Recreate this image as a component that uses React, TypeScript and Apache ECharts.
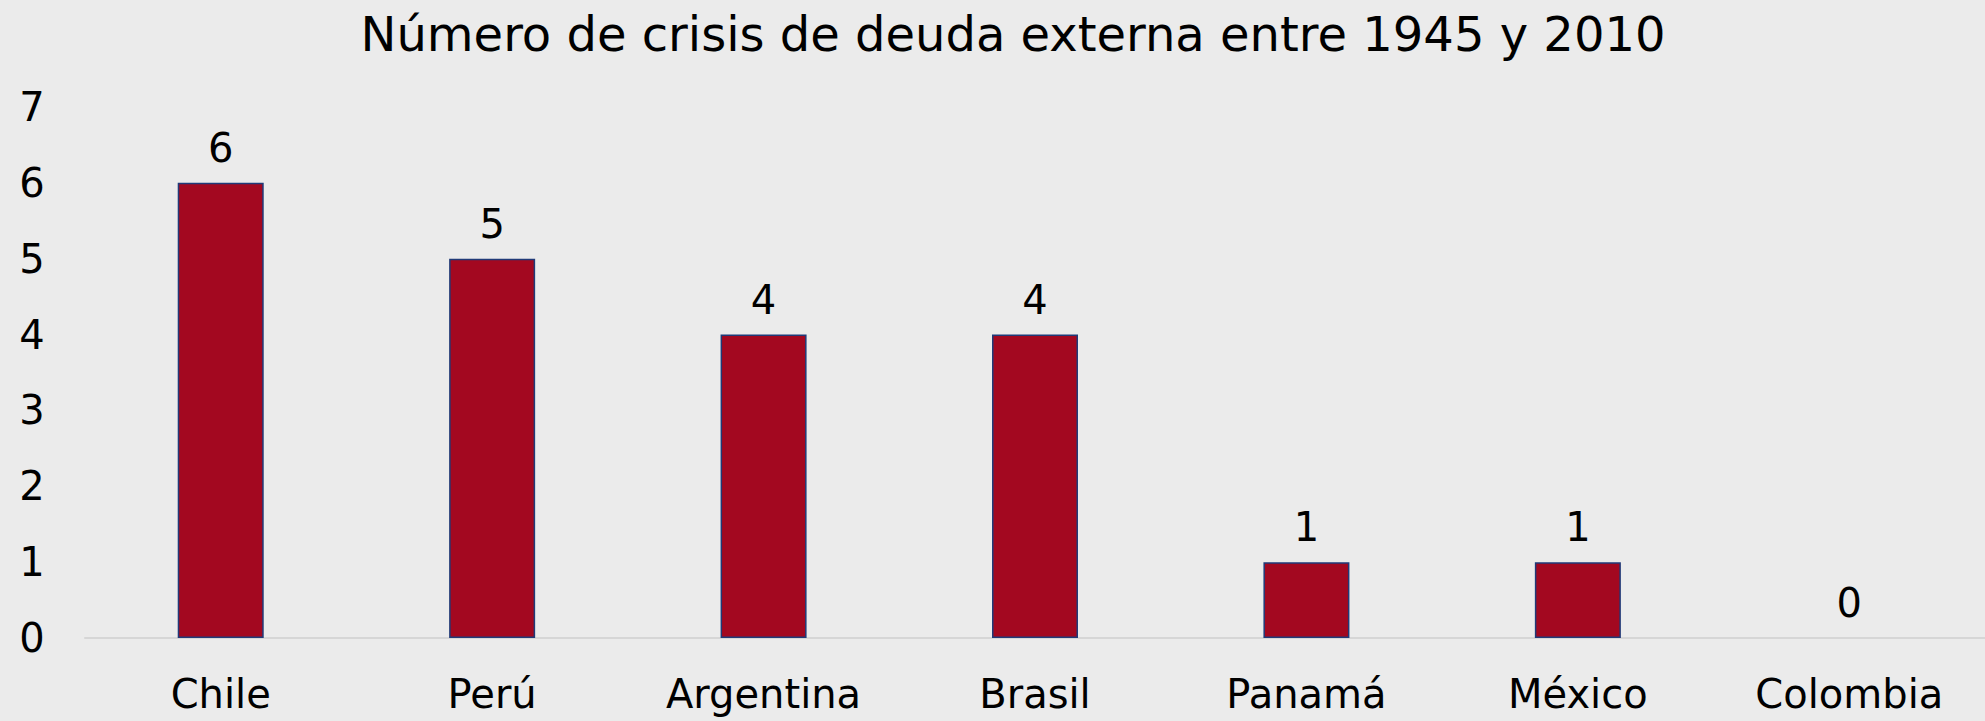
import React, { useEffect, useRef } from "react";
import * as echarts from "echarts";

const titleText = "Número de crisis de deuda externa entre 1945 y 2010";
const countries = ["Chile", "Perú", "Argentina", "Brasil", "Panamá", "México", "Colombia"];
const crisisCounts = [6, 5, 4, 4, 1, 1, 0];
const yMin = 0;
const yMax = 7;
const yInterval = 1;

const FONT = "'DejaVu Sans', sans-serif";

export default function App() {
  const ref = useRef<HTMLDivElement>(null);
  useEffect(() => {
    document.body.style.margin = "0";
    if (!ref.current) return;
    const chart = echarts.init(ref.current, null, { renderer: "svg" });
    chart.setOption({
      animation: false,
      backgroundColor: "#EBEBEB",
      textStyle: { fontFamily: FONT },
      title: {
        text: titleText,
        left: 1008,
        textAlign: "center",
        top: 5,
        textStyle: { fontSize: 48, fontWeight: "normal", color: "#000", fontFamily: FONT },
      },
      grid: { left: 85, right: 0, top: 107, bottom: 83, containLabel: false },
      xAxis: {
        type: "category",
        data: countries,
        axisLine: { show: true, lineStyle: { color: "#D6D6D6", width: 2 } },
        axisTick: { show: false },
        axisLabel: {
          fontSize: 40,
          color: "#000",
          fontFamily: FONT,
          margin: 56,
          verticalAlign: "middle",
          interval: 0,
        },
      },
      yAxis: {
        type: "value",
        min: yMin,
        max: yMax,
        interval: yInterval,
        axisLine: { show: false },
        axisTick: { show: false },
        splitLine: { show: false },
        axisLabel: {
          fontSize: 40,
          color: "#000",
          fontFamily: FONT,
          align: "center",
          margin: 53,
        },
      },
      series: [
        {
          type: "bar",
          data: crisisCounts.map((v) => ({
            value: v,
            itemStyle: v === 0 ? { borderWidth: 0 } : undefined,
          })),
          barWidth: 86,
          itemStyle: { color: "#A30820", borderColor: "#203A78", borderWidth: 1.5 },
          label: {
            show: true,
            position: "top",
            distance: 15,
            fontSize: 40,
            color: "#000",
            fontFamily: FONT,
          },
        },
      ],
    });
    return () => chart.dispose();
  }, []);
  return <div ref={ref} style={{ width: 1985, height: 721 }} />;
}
